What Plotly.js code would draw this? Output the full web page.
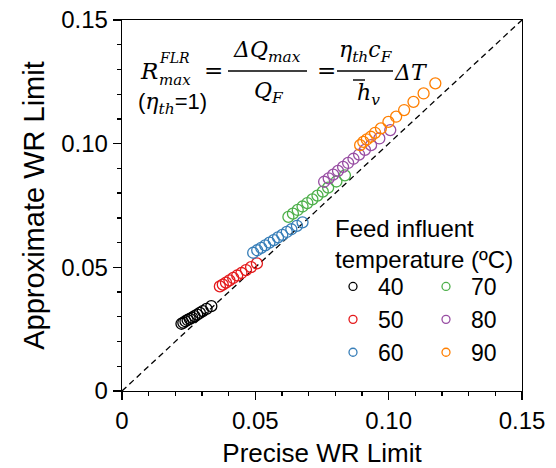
<!DOCTYPE html>
<html><head><meta charset="utf-8">
<script src="https://cdn.plot.ly/plotly-3.0.1.min.js"></script>
<style>body{margin:0;padding:0;background:#fff}#chart{width:556px;height:468px}</style>
</head><body><div id="chart"></div>
<script>
// ---- data ----
const seriesNames = ['40','50','60','70','80','90'];
const seriesColors = ['#000000','#e41a1c','#377eb8','#4daf4a','#984ea3','#ff7f00'];
const x40 = [0.0223,0.0230,0.0238,0.0246,0.0254,0.0263,0.0272,0.0282,0.0292,0.0303,0.0317,0.0335];
const y40 = [0.0272,0.0276,0.0282,0.0287,0.0292,0.0297,0.0303,0.0309,0.0316,0.0323,0.0332,0.0343];
const x50 = [0.0367,0.0378,0.0390,0.0403,0.0417,0.0432,0.0448,0.0465,0.0484,0.0506];
const y50 = [0.0423,0.0430,0.0438,0.0447,0.0457,0.0467,0.0477,0.0489,0.0501,0.0516];
const x60 = [0.0492,0.0507,0.0522,0.0537,0.0553,0.0569,0.0585,0.0601,0.0618,0.0635,0.0656,0.0677];
const y60 = [0.0559,0.0569,0.0579,0.0589,0.0600,0.0610,0.0621,0.0631,0.0643,0.0654,0.0668,0.0682];
const x70 = [0.0624,0.0641,0.0659,0.0677,0.0695,0.0714,0.0733,0.0753,0.0773,0.0804,0.0836];
const y70 = [0.0704,0.0717,0.0732,0.0746,0.0760,0.0775,0.0790,0.0806,0.0822,0.0847,0.0872];
const x80 = [0.0758,0.0775,0.0792,0.0810,0.0829,0.0848,0.0868,0.0889,0.0911,0.0934,0.0965,0.1006];
const y80 = [0.0846,0.0860,0.0875,0.0890,0.0906,0.0922,0.0939,0.0956,0.0975,0.0994,0.1021,0.1055];
const x90 = [0.0893,0.0905,0.0918,0.0933,0.0949,0.0971,0.0999,0.1028,0.1058,0.1093,0.1131,0.1175];
const y90 = [0.0994,0.1007,0.1017,0.1028,0.1044,0.1062,0.1088,0.1109,0.1136,0.1169,0.1203,0.1244];
const diagX = [0, 0.15];
const diagY = [0, 0.15];
const tickVals = [0, 0.05, 0.10, 0.15];
const tickText = ['0', '0.05', '0.10', '0.15'];

const xs = [x40,x50,x60,x70,x80,x90];
const ys = [y40,y50,y60,y70,y80,y90];

// ---- layout helpers (pixel -> paper) ----
const ML=122, MR=34, MT=20, MB=77, W=556, H=468;
const PW=W-ML-MR, PH=H-MT-MB;
const px = v => (v-ML)/PW;
const py = v => (H-MB-v)/PH;

const traces = [];
traces.push({x:diagX, y:diagY, mode:'lines', line:{color:'#000', width:1.3, dash:'6px,4px'}, showlegend:false, hoverinfo:'skip'});
for (let i=0;i<6;i++){
  traces.push({x:xs[i], y:ys[i], mode:'markers', type:'scatter', showlegend:false,
    marker:{symbol:'circle-open', size:11, color:seriesColors[i], line:{width:1.3, color:seriesColors[i]}}});
}
for (let i=0;i<6;i++){
  traces.push({x:[null], y:[null], mode:'markers', type:'scatter', name:seriesNames[i],
    legend: i<3 ? 'legend' : 'legend2', legendgroup:'g'+i,
    marker:{symbol:'circle-open', size:8, color:seriesColors[i], line:{width:1.3, color:seriesColors[i]}}});
}

const serif = 'DejaVu Serif';
const sans = 'Liberation Sans';
const eqAnn = (text, x, y, size, anchor, italic, fam) => ({
  text: text, xref:'paper', yref:'paper', x:px(x), y:py(y), xanchor:anchor||'left', yanchor:'middle',
  showarrow:false, font:{family:fam||serif, size:size, color:'#000', style: italic===false?'normal':'italic'}
});

const annotations = [
  eqAnn('R', 138, 71, 23, 'left'),
  eqAnn('FLR', 157, 58, 14, 'left'),
  eqAnn('max', 157, 80, 15, 'left'),
  eqAnn('=', 213, 70, 23, 'center', false),
  eqAnn('ΔQ<sub>max</sub>', 267, 52, 22, 'center'),
  eqAnn('Q<sub>F</sub>', 269, 92, 22, 'center'),
  eqAnn('=', 326, 70, 23, 'center', false),
  eqAnn('η<sub>th</sub>c<sub>F</sub>', 366, 52, 22, 'center'),
  eqAnn('h<sub>v</sub>', 368, 94, 22, 'center'),
  eqAnn('ΔT', 392, 72, 22, 'left'),
  eqAnn('(<i style="font-family:DejaVu Serif">η</i><sub><i style="font-family:DejaVu Serif">th</i></sub>=1)', 136, 103, 22, 'left', false, sans),
  {text:'Feed influent<br>temperature (ºC)', xref:'paper', yref:'paper', x:px(333), y:py(213),
   xanchor:'left', yanchor:'top', align:'left', showarrow:false,
   font:{family:sans, size:24, color:'#000'}}
];

const shapes = [
  {type:'line', xref:'paper', yref:'paper', x0:px(228), x1:px(307), y0:py(71), y1:py(71), line:{color:'#000', width:1.4}},
  {type:'line', xref:'paper', yref:'paper', x0:px(337), x1:px(393), y0:py(71), y1:py(71), line:{color:'#000', width:1.4}},
  {type:'line', xref:'paper', yref:'paper', x0:px(353), x1:px(365), y0:py(80), y1:py(80), line:{color:'#000', width:1.4}}
];

const axisCommon = {
  range:[0,0.15], tickmode:'array', tickvals:tickVals, ticktext:tickText,
  showline:true, mirror:true, linecolor:'#000', linewidth:1.3,
  ticks:'outside', ticklen:8, tickwidth:1.3, tickcolor:'#000',
  showgrid:false, zeroline:false,
  tickfont:{family:sans, size:24, color:'#000'},
  minor:{tickmode:'linear', tick0:0, dtick:0.01, ticks:'outside', ticklen:4, tickwidth:1.3, tickcolor:'#000', showgrid:false}
};

const legendCommon = {
  orientation:'v', bgcolor:'rgba(0,0,0,0)', borderwidth:0, itemwidth:40, tracegroupgap:0,
  font:{family:sans, size:23, color:'#000'}, xanchor:'left', yanchor:'top', xref:'paper', yref:'paper'
};

const layout = {
  width:W, height:H, margin:{l:ML, r:MR, t:MT, b:MB},
  paper_bgcolor:'#fff', plot_bgcolor:'#fff',
  xaxis: Object.assign({}, axisCommon, {title:{text:'Precise WR Limit', font:{family:sans, size:26, color:'#000'}, standoff:10}}),
  yaxis: Object.assign({}, axisCommon, {title:{text:'Approximate WR Limit', font:{family:sans, size:29, color:'#000'}, standoff:8}}),
  legend: Object.assign({}, legendCommon, {x:px(328), y:py(265)}),
  legend2: Object.assign({}, legendCommon, {x:px(421), y:py(265)}),
  annotations: annotations,
  shapes: shapes
};

Plotly.newPlot('chart', traces, layout, {staticPlot:true, displayModeBar:false});
</script>
</body></html>
